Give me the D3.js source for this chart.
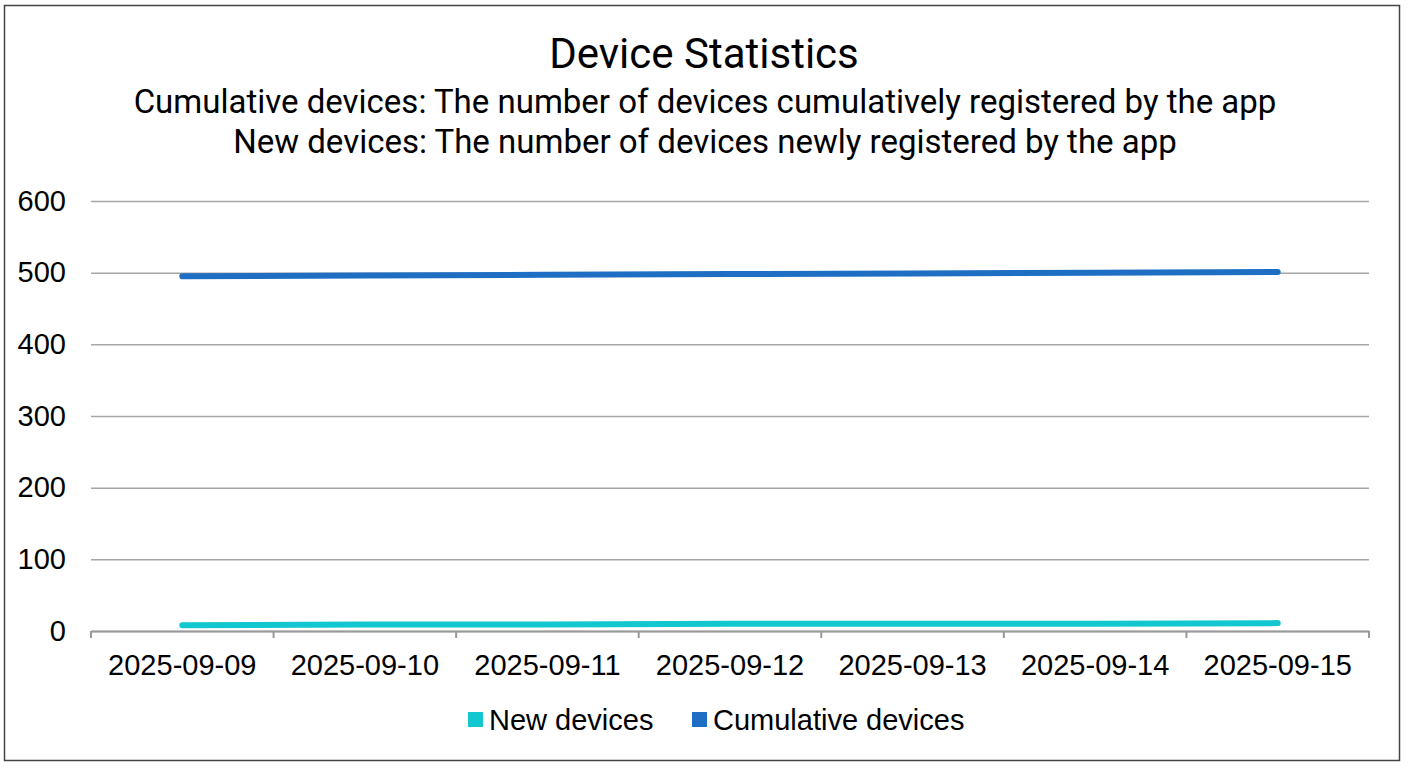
<!DOCTYPE html>
<html>
<head>
<meta charset="utf-8">
<script src="https://cdn.jsdelivr.net/npm/d3@7"></script>
<style>
  body { margin: 0; background: #fff; }
  svg { display: block; }
</style>
</head>
<body>
<div id="chart"></div>
<script>
const dates = ['2025-09-09', '2025-09-10', '2025-09-11', '2025-09-12', '2025-09-13', '2025-09-14', '2025-09-15']
const newDevices = [8, 9, 9, 10, 10, 10, 11]
const cumulativeDevices = [495, 496, 497, 498, 499, 500, 501]
const yTicks = [0, 100, 200, 300, 400, 500, 600]

const W = 1408
const H = 768
const margin = { top: 201, left: 91, right: 39, bottom: 137 }
const width = W - margin.left - margin.right
const height = H - margin.top - margin.bottom

const svg = d3.select('#chart')
  .append('svg')
  .attr('width', W)
  .attr('height', H)

// outer frame
svg.append('rect')
  .attr('x', 4.5).attr('y', 5.5)
  .attr('width', 1395).attr('height', 755)
  .attr('fill', 'none')
  .attr('stroke', '#444')
  .attr('stroke-width', 1.5)

// titles
const titleFont = 'Roboto, "Noto Sans", sans-serif'
svg.append('text')
  .attr('x', 704).attr('y', 68)
  .attr('text-anchor', 'middle')
  .style('font-family', titleFont)
  .style('font-size', '42px')
  .text('Device Statistics')

svg.append('text')
  .attr('x', 705).attr('y', 113)
  .attr('text-anchor', 'middle')
  .style('font-family', titleFont)
  .style('font-size', '33px')
  .text('Cumulative devices: The number of devices cumulatively registered by the app')

svg.append('text')
  .attr('x', 705).attr('y', 153)
  .attr('text-anchor', 'middle')
  .style('font-family', titleFont)
  .style('font-size', '33px')
  .text('New devices: The number of devices newly registered by the app')

const g = svg.append('g')
  .attr('transform', `translate(${margin.left},${margin.top})`)

const x = d3.scaleBand().domain(dates).range([0, width])
const y = d3.scaleLinear().domain([0, 600]).range([height, 0])

const axisFont = '"Liberation Sans", Arial, sans-serif'

// gridlines + y labels
g.append('g')
  .call(d3.axisLeft(y).tickValues(yTicks).tickSize(-width).tickFormat(d3.format('d')))
  .call(ax => ax.select('.domain').remove())
  .call(ax => ax.selectAll('.tick line').attr('stroke', '#a6a6a6').attr('stroke-width', 1.5))
  .call(ax => ax.selectAll('.tick text')
    .attr('x', -25)
    .attr('fill', '#000')
    .style('font-family', axisFont)
    .style('font-size', '29px'))

// x axis
const xAxis = g.append('g')
  .attr('transform', `translate(0,${height})`)
  .call(d3.axisBottom(x).tickSize(0).tickPadding(23))
xAxis.select('.domain').attr('stroke', '#999').attr('stroke-width', 2)
xAxis.selectAll('.tick text')
  .attr('fill', '#000')
  .style('font-family', axisFont)
  .style('font-size', '29px')
// tick marks between categories
xAxis.selectAll('.sep')
  .data(d3.range(dates.length + 1))
  .enter()
  .append('line')
  .attr('x1', i => i * x.step())
  .attr('x2', i => i * x.step())
  .attr('y1', 0).attr('y2', 7)
  .attr('stroke', '#999')
  .attr('stroke-width', 2)

const xc = d => x(d) + x.bandwidth() / 2

const series = [
  { name: 'New devices', values: newDevices, color: '#12c7cf' },
  { name: 'Cumulative devices', values: cumulativeDevices, color: '#1e6fc3' }
]

const line = d3.line()
  .x((d, i) => xc(dates[i]))
  .y(d => y(d))

g.selectAll('.series')
  .data(series)
  .enter()
  .append('path')
  .attr('class', 'series')
  .attr('d', d => line(d.values))
  .attr('fill', 'none')
  .attr('stroke', d => d.color)
  .attr('stroke-width', 6)
  .attr('stroke-linecap', 'round')
  .attr('stroke-linejoin', 'round')

// legend
const legendX = [468, 692]
const legend = svg.selectAll('.legend')
  .data(series)
  .enter()
  .append('g')
  .attr('class', 'legend')
  .attr('transform', (d, i) => `translate(${legendX[i]},712)`)

legend.append('rect')
  .attr('width', 15).attr('height', 15)
  .attr('fill', d => d.color)

legend.append('text')
  .attr('x', 21).attr('y', 18)
  .style('font-family', axisFont)
  .style('font-size', '29px')
  .text(d => d.name)
</script>
</body>
</html>
